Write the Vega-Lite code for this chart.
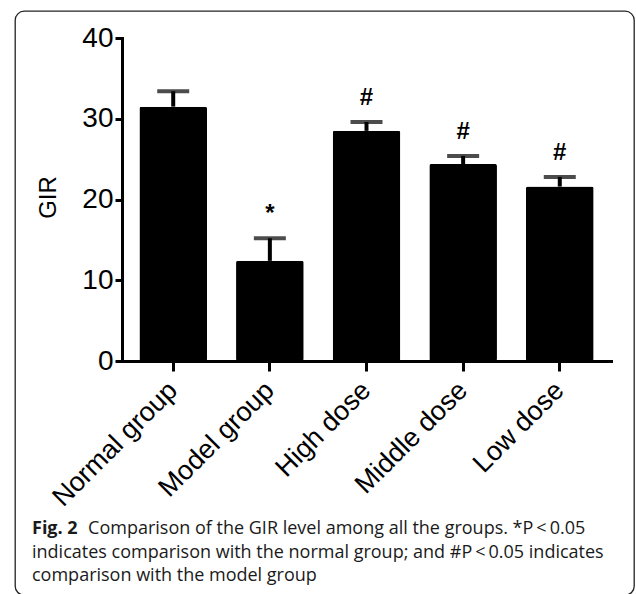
{
  "$schema": "https://vega.github.io/schema/vega-lite/v6.json",
  "width": 619,
  "height": 584,
  "autosize": {"type": "none"},
  "padding": {"left": 15, "top": 11, "right": 2, "bottom": 0},
  "background": "white",
  "config": {
    "view": {"stroke": "#222222", "strokeWidth": 1.3, "cornerRadius": 9, "fill": "white"}
  },
  "title": {
    "text": "Fig. 2",
    "subtitle": [
      "\u200b\u00a0\u00a0\u00a0\u00a0\u00a0\u00a0\u00a0\u00a0\u00a0\u00a0\u00a0\u00a0Comparison of the GIR level among all the groups. *P\u2009<\u20090.05",
      "indicates comparison with the normal group; and #P\u2009<\u20090.05 indicates",
      "comparison with the model group"
    ],
    "orient": "bottom",
    "anchor": "start",
    "frame": "group",
    "offset": -75,
    "dx": 17,
    "font": "Open Sans",
    "fontSize": 18,
    "fontWeight": "bold",
    "color": "#1a1a1a",
    "subtitleFont": "Open Sans",
    "subtitleFontSize": 18,
    "subtitleFontWeight": "normal",
    "subtitleColor": "#1a1a1a",
    "subtitleLineHeight": 23.5,
    "subtitlePadding": -18
  },
  "data": {
    "values": [
      {"group": "Normal group", "gir": 31.5, "upper": 33.4, "mark": ""},
      {"group": "Model group", "gir": 12.4, "upper": 15.2, "mark": "*"},
      {"group": "High dose", "gir": 28.5, "upper": 29.6, "mark": "#"},
      {"group": "Middle dose", "gir": 24.4, "upper": 25.4, "mark": "#"},
      {"group": "Low dose", "gir": 21.6, "upper": 22.8, "mark": "#"}
    ]
  },
  "encoding": {
    "x": {
      "field": "group",
      "type": "nominal",
      "sort": null,
      "scale": {"range": [107, 596], "paddingInner": 0.3, "paddingOuter": 0.18},
      "axis": {
        "title": null,
        "orient": "bottom",
        "offset": -234,
        "domainColor": "black",
        "domainWidth": 3,
        "domainCap": "square",
        "tickColor": "black",
        "tickWidth": 3,
        "tickSize": 10,
        "labelAngle": -45,
        "labelAlign": "right",
        "labelBaseline": "middle",
        "labelPadding": 15,
        "labelFont": "Liberation Sans",
        "labelFontSize": 27,
        "labelColor": "black",
        "labelOverlap": false,
        "labelLimit": 0
      }
    }
  },
  "layer": [
    {
      "mark": {"type": "bar", "color": "black", "cornerRadius": 2},
      "encoding": {
        "y": {
          "field": "gir",
          "type": "quantitative",
          "scale": {"domain": [0, 40], "range": [350, 27], "nice": false, "zero": true},
          "axis": {
            "title": "GIR",
            "orient": "left",
            "offset": -107,
            "values": [0, 10, 20, 30, 40],
            "grid": false,
            "domainColor": "black",
            "domainWidth": 3,
            "domainCap": "square",
            "tickColor": "black",
            "tickWidth": 3,
            "tickSize": 7,
            "labelPadding": 2,
            "labelFont": "Liberation Sans",
            "labelFontSize": 28,
            "labelColor": "black",
            "titleFont": "Liberation Sans",
            "titleFontSize": 24,
            "titleFontWeight": "normal",
            "titleColor": "black",
            "titleAngle": -90,
            "titleAlign": "center",
            "titleBaseline": "middle",
            "titleX": -74,
            "titleY": 186
          }
        }
      }
    },
    {
      "mark": {"type": "rule", "color": "black", "strokeWidth": 4},
      "encoding": {
        "y": {"field": "gir", "type": "quantitative"},
        "y2": {"field": "upper"}
      }
    },
    {
      "mark": {"type": "tick", "color": "black", "thickness": 4, "size": 32},
      "encoding": {
        "y": {"field": "upper", "type": "quantitative"}
      }
    },
    {
      "mark": {"type": "text", "color": "black", "font": "Liberation Sans", "fontSize": 24, "fontWeight": "bold", "baseline": "middle", "dy": -24},
      "encoding": {
        "y": {"field": "upper", "type": "quantitative"},
        "text": {"field": "mark"}
      }
    }
  ]
}
